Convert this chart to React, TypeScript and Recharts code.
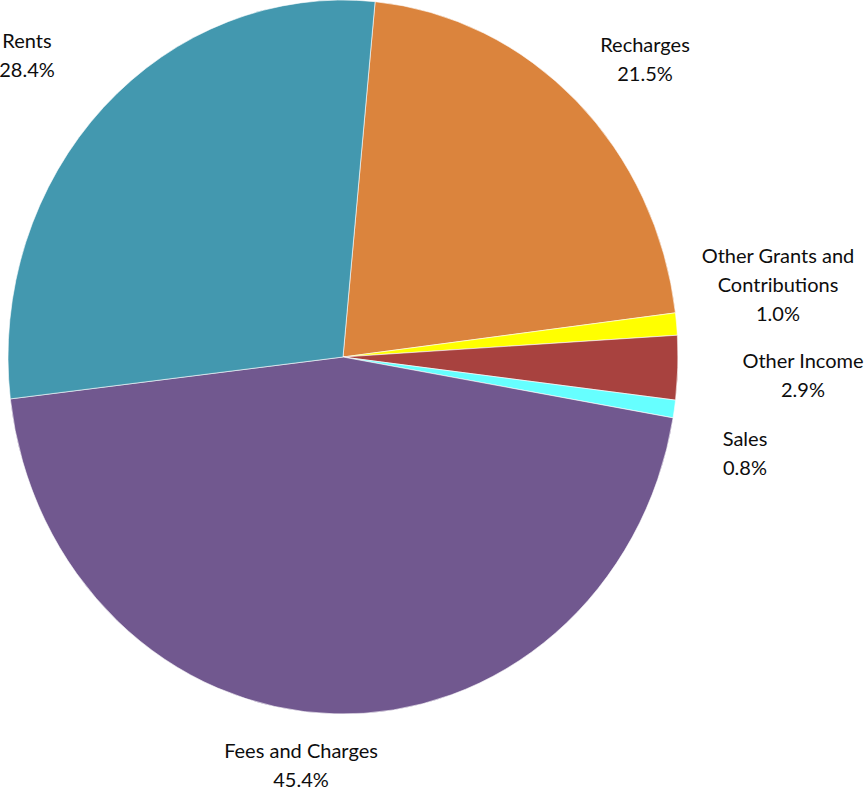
import { PieChart, Pie, Cell } from "recharts";

const categories = [
  "Recharges",
  "Other Grants and Contributions",
  "Other Income",
  "Sales",
  "Fees and Charges",
  "Rents",
];
const shares = [21.5, 1.0, 2.9, 0.8, 45.4, 28.4];
const colors = ["#DB843D", "#FFFF00", "#A8423F", "#66FFFF", "#71588F", "#4398AF"];

// label boxes as Excel placed them (centre x, first baseline y, lines of text)
const labelLayout: Record<string, { x: number; y: number; lines: string[] }> = {
  Recharges: { x: 645, y: 52, lines: ["Recharges"] },
  "Other Grants and Contributions": { x: 778, y: 263, lines: ["Other Grants and", "Contributions"] },
  "Other Income": { x: 803, y: 368, lines: ["Other Income"] },
  Sales: { x: 745, y: 446, lines: ["Sales"] },
  "Fees and Charges": { x: 301, y: 758, lines: ["Fees and Charges"] },
  Rents: { x: 27, y: 48, lines: ["Rents"] },
};

const data = categories.map((name, i) => ({ name, value: shares[i] }));

const RX = 335;
const RY = 357;
const RAD = Math.PI / 180;

// pie in the reference is stretched vertically, so draw each slice as an elliptical sector
function EllipseSector(props: any) {
  const { cx, cy, startAngle, endAngle, fill } = props;
  const x0 = cx + RX * Math.cos(startAngle * RAD);
  const y0 = cy - RY * Math.sin(startAngle * RAD);
  const x1 = cx + RX * Math.cos(endAngle * RAD);
  const y1 = cy - RY * Math.sin(endAngle * RAD);
  const large = Math.abs(startAngle - endAngle) > 180 ? 1 : 0;
  const sweep = startAngle > endAngle ? 1 : 0;
  const d = `M${cx},${cy} L${x0},${y0} A${RX},${RY} 0 ${large} ${sweep} ${x1},${y1} Z`;
  return <path d={d} fill={fill} stroke="#ffffff" strokeWidth={0.6} />;
}

function renderLabel(props: any) {
  const spot = labelLayout[props.name];
  if (!spot) return null;
  const pct = `${(props.percent * 100).toFixed(1)}%`;
  const lines = [...spot.lines, pct];
  return (
    <text
      x={spot.x}
      y={spot.y}
      textAnchor="middle"
      fill="#0d0d0d"
      fontSize={20}
      fontFamily="Lato, 'Open Sans', sans-serif"
    >
      {lines.map((l, i) => (
        <tspan key={i} x={spot.x} y={spot.y + i * 29}>
          {l}
        </tspan>
      ))}
    </text>
  );
}

export default function App() {
  return (
    <div style={{ position: "absolute", left: 0, top: 0, background: "#fff" }}>
      <PieChart width={865} height={787} margin={{ top: 0, right: 0, bottom: 0, left: 0 }}>
        <Pie
          data={data}
          dataKey="value"
          nameKey="name"
          cx={343}
          cy={357}
          outerRadius={RX}
          startAngle={84.5}
          endAngle={-275.5}
          label={renderLabel}
          labelLine={false}
          shape={EllipseSector}
          inactiveShape={EllipseSector}
          activeShape={EllipseSector}
          isAnimationActive={false}
        >
          {data.map((d, i) => (
            <Cell key={d.name} fill={colors[i]} />
          ))}
        </Pie>
      </PieChart>
    </div>
  );
}
